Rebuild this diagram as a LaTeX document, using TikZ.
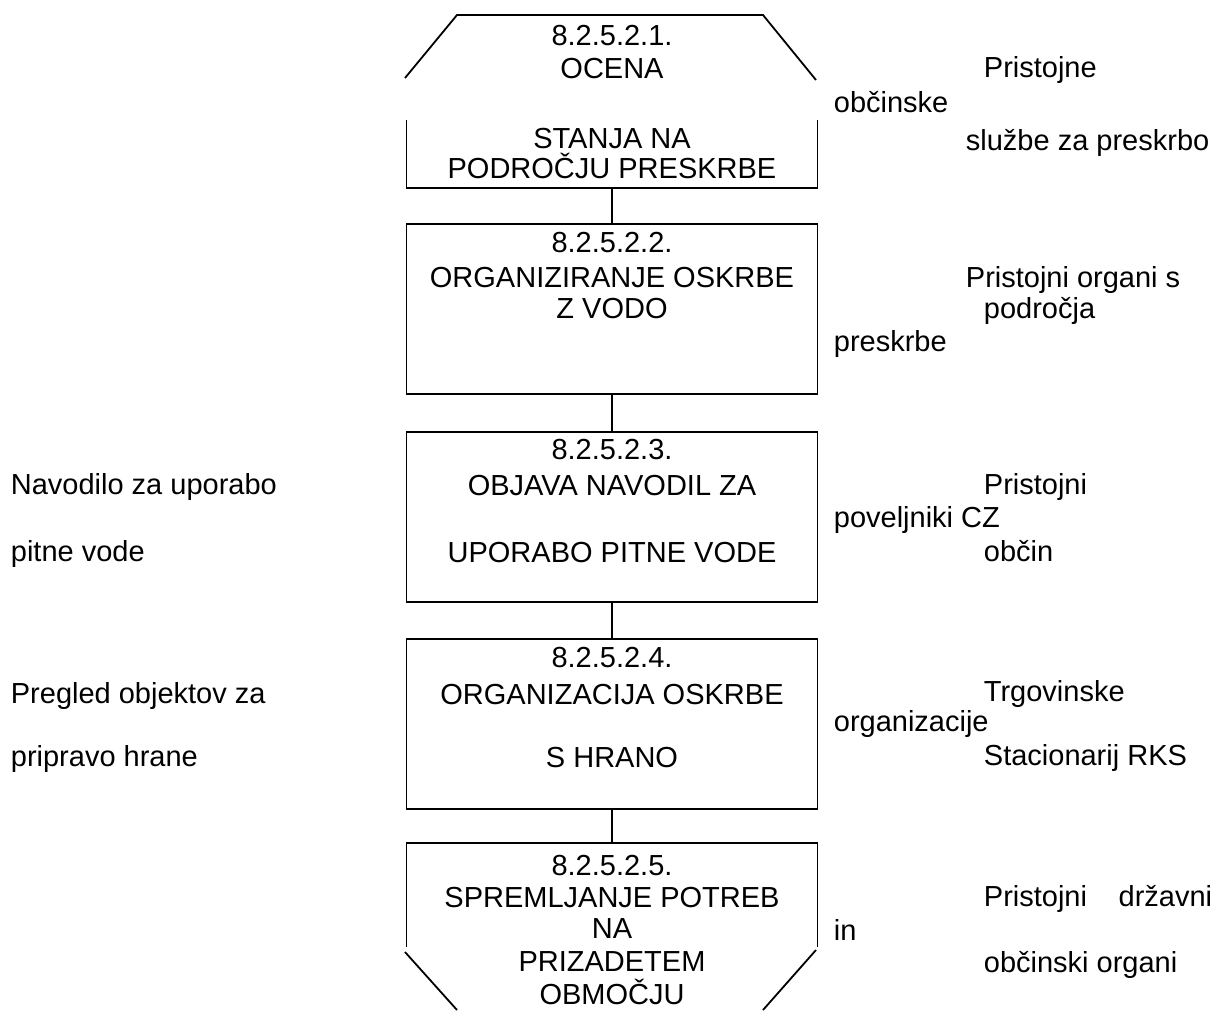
\documentclass[tikz,border=0pt]{standalone}
\usepackage{fontspec}
\setmainfont{Liberation Sans}
\begin{document}
\begin{tikzpicture}[x=1pt,y=-1pt, line width=1.8pt,
  box/.style={draw, minimum width=411pt, minimum height=170pt, inner sep=0pt, outer sep=0pt, anchor=north west},
  ctxt/.style={anchor=base, inner sep=0pt, font=\fontsize{29}{33}\selectfont},
  ltxt/.style={anchor=base west, inner sep=0pt, font=\fontsize{29}{33}\selectfont},
  rtxt/.style={anchor=base east, inner sep=0pt, font=\fontsize{29}{33}\selectfont}]
\useasboundingbox (0,0) rectangle (1216,1012);

% top shape
\draw (405,78) -- (457,15) -- (763,15) -- (816,80);
\draw (406.5,120) -- (406.5,188) -- (817.5,188) -- (817.5,120);
\coordinate (t1) at (612,188);

% boxes
\node[box] (b2) at (406.5,224) {};
\node[box] (b3) at (406.5,432) {};
\node[box] (b4) at (406.5,639) {};

% bottom shape
\draw (406.5,947) -- (406.5,843) -- (817.5,843) -- (817.5,947);
\draw (405,952) -- (457,1010);
\draw (816,950) -- (763,1010);
\coordinate (t5) at (612,843);

% connectors
\draw (t1) -- (b2.north);
\draw (b2.south) -- (b3.north);
\draw (b3.south) -- (b4.north);
\draw (b4.south) -- (t5);

% box 1 texts
\node[ctxt] (a1) at (612,45) {8.2.5.2.1.};
\node[ctxt] (a2) at (612,78) {OCENA};
\node[ctxt] (a3) at (612,148) {STANJA NA};
\node[ctxt] (a4) at (612,178) {PODROČJU PRESKRBE};
\node[ltxt] (r11) at (983,77) {Pristojne};
\node[ltxt] (r12) at (833,112) {občinske};
\node[ltxt] (r13) at (965,150) {službe za preskrbo};

% box 2 texts
\node[ctxt] (c1) at (612,252) {8.2.5.2.2.};
\node[ctxt] (c2) at (612,287) {ORGANIZIRANJE OSKRBE};
\node[ctxt] (c3) at (612,318) {Z VODO};
\node[ltxt] (r21) at (965,287) {Pristojni organi s};
\node[ltxt] (r22) at (983,318) {področja};
\node[ltxt] (r23) at (833,351) {preskrbe};

% box 3 texts
\node[ctxt] (d1) at (612,459) {8.2.5.2.3.};
\node[ctxt] (d2) at (612,495) {OBJAVA NAVODIL ZA};
\node[ctxt] (d3) at (612,562) {UPORABO PITNE VODE};
\node[ltxt] (l31) at (10,494) {Navodilo za uporabo};
\node[ltxt] (l32) at (10,561) {pitne vode};
\node[ltxt] (r31) at (983,494) {Pristojni};
\node[ltxt] (r32) at (833,527) {poveljniki CZ};
\node[ltxt] (r33) at (983,561) {občin};

% box 4 texts
\node[ctxt] (e1) at (612,667) {8.2.5.2.4.};
\node[ctxt] (e2) at (612,704) {ORGANIZACIJA OSKRBE};
\node[ctxt] (e3) at (612,767) {S HRANO};
\node[ltxt] (l41) at (10,703) {Pregled objektov za};
\node[ltxt] (l42) at (10,766) {pripravo hrane};
\node[ltxt] (r41) at (983,701) {Trgovinske};
\node[ltxt] (r42) at (833,731) {organizacije};
\node[ltxt] (r43) at (983,765) {Stacionarij RKS};

% box 5 texts
\node[ctxt] (f1) at (612,875) {8.2.5.2.5.};
\node[ctxt] (f2) at (612,907) {SPREMLJANJE POTREB};
\node[ctxt] (f3) at (612,938) {NA};
\node[ctxt] (f4) at (612,971) {PRIZADETEM};
\node[ctxt] (f5) at (612,1004) {OBMOČJU};
\node[ltxt] (r51) at (983,906) {Pristojni};
\node[rtxt] (r52) at (1213,906) {državni};
\node[ltxt] (r53) at (833,940) {in};
\node[ltxt] (r54) at (983,972) {občinski organi};
\end{tikzpicture}
\end{document}
